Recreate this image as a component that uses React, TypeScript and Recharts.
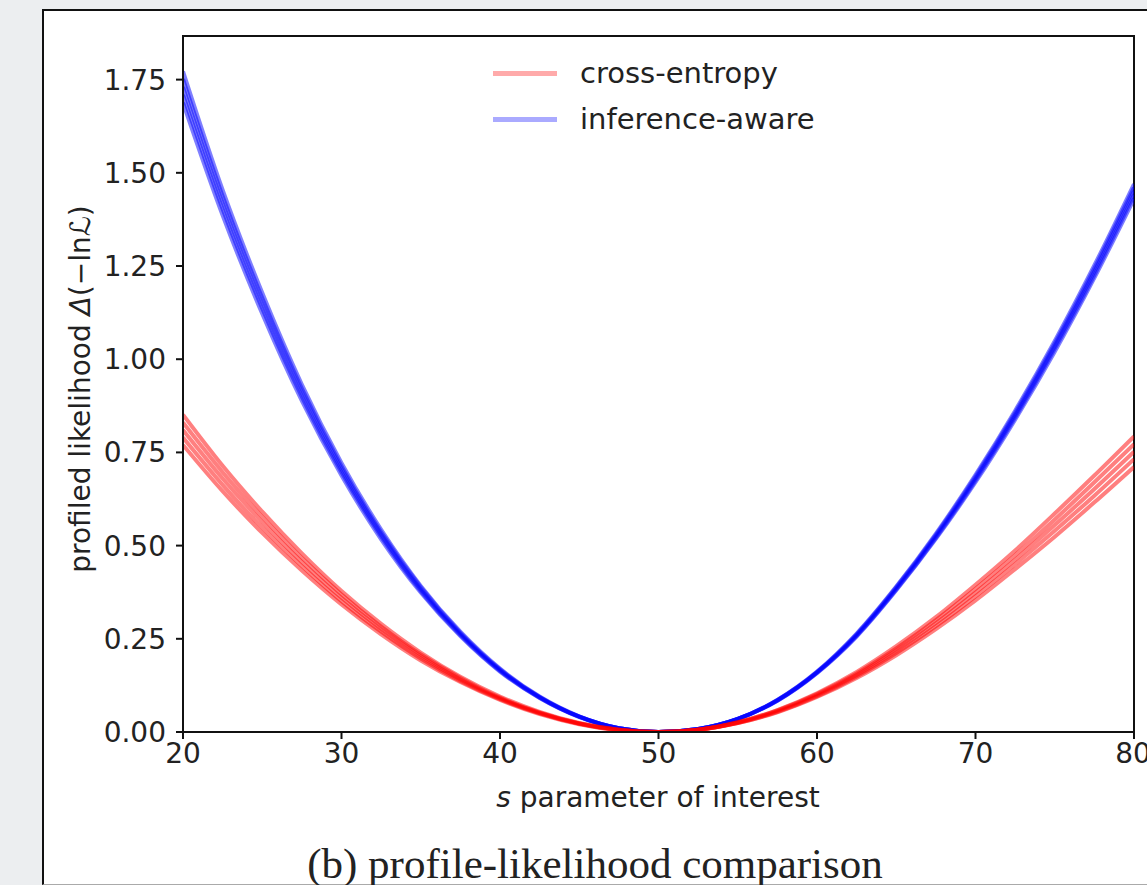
import React from "react";
import {
  LineChart,
  Line,
  XAxis,
  YAxis,
  ReferenceArea,
} from "recharts";

// signal strength s, sampled every 2.5
const sValues = [
  20, 22.5, 25, 27.5, 30, 32.5, 35, 37.5, 40, 42.5, 45, 47.5, 50,
  52.5, 55, 57.5, 60, 62.5, 65, 67.5, 70, 72.5, 75, 77.5, 80,
];

// cross-entropy trained models (5 runs)
const crossEntropy1 = [0.851, 0.714, 0.591, 0.479, 0.378, 0.29, 0.213, 0.148, 0.095, 0.054, 0.024, 0.006, 0, 0.006, 0.026, 0.059, 0.104, 0.161, 0.23, 0.308, 0.395, 0.487, 0.586, 0.688, 0.793];
const crossEntropy2 = [0.83, 0.697, 0.577, 0.467, 0.369, 0.283, 0.208, 0.145, 0.092, 0.052, 0.023, 0.006, 0, 0.006, 0.026, 0.058, 0.102, 0.157, 0.224, 0.3, 0.384, 0.474, 0.57, 0.67, 0.772];
const crossEntropy3 = [0.81, 0.68, 0.563, 0.456, 0.36, 0.276, 0.203, 0.141, 0.09, 0.051, 0.023, 0.006, 0, 0.006, 0.025, 0.056, 0.099, 0.153, 0.218, 0.292, 0.374, 0.462, 0.555, 0.652, 0.752];
const crossEntropy4 = [0.79, 0.663, 0.548, 0.445, 0.351, 0.269, 0.197, 0.137, 0.088, 0.05, 0.022, 0.005, 0, 0.006, 0.024, 0.054, 0.096, 0.149, 0.212, 0.284, 0.364, 0.45, 0.54, 0.634, 0.732];
const crossEntropy5 = [0.77, 0.646, 0.534, 0.433, 0.342, 0.262, 0.192, 0.134, 0.086, 0.048, 0.021, 0.005, 0, 0.006, 0.024, 0.053, 0.094, 0.145, 0.206, 0.276, 0.353, 0.437, 0.524, 0.616, 0.711];

// inference-aware trained models (5 runs)
const inferenceAware1 = [1.772, 1.454, 1.178, 0.932, 0.722, 0.543, 0.392, 0.269, 0.17, 0.095, 0.042, 0.01, 0, 0.008, 0.035, 0.086, 0.162, 0.264, 0.39, 0.532, 0.69, 0.862, 1.049, 1.252, 1.47];
const inferenceAware2 = [1.751, 1.437, 1.164, 0.921, 0.713, 0.536, 0.388, 0.266, 0.168, 0.094, 0.041, 0.01, 0, 0.008, 0.035, 0.086, 0.161, 0.262, 0.388, 0.529, 0.685, 0.856, 1.042, 1.244, 1.46];
const inferenceAware3 = [1.73, 1.42, 1.15, 0.91, 0.705, 0.53, 0.383, 0.263, 0.166, 0.093, 0.041, 0.01, 0, 0.008, 0.035, 0.085, 0.16, 0.26, 0.385, 0.525, 0.68, 0.85, 1.035, 1.235, 1.45];
const inferenceAware4 = [1.709, 1.403, 1.136, 0.899, 0.697, 0.524, 0.378, 0.26, 0.164, 0.092, 0.041, 0.01, 0, 0.008, 0.035, 0.084, 0.159, 0.258, 0.382, 0.521, 0.675, 0.844, 1.028, 1.226, 1.44];
const inferenceAware5 = [1.688, 1.386, 1.122, 0.888, 0.688, 0.517, 0.374, 0.257, 0.162, 0.091, 0.04, 0.01, 0, 0.008, 0.035, 0.084, 0.158, 0.256, 0.38, 0.518, 0.67, 0.838, 1.02, 1.218, 1.43];

const xTicks = [20, 30, 40, 50, 60, 70, 80];
const yTicks = [0, 0.25, 0.5, 0.75, 1.0, 1.25, 1.5, 1.75];

const ceRuns = [crossEntropy1, crossEntropy2, crossEntropy3, crossEntropy4, crossEntropy5];
const iaRuns = [inferenceAware1, inferenceAware2, inferenceAware3, inferenceAware4, inferenceAware5];

const data = sValues.map((s, i) => {
  const row: Record<string, number> = { s };
  ceRuns.forEach((run, k) => (row[`ce${k}`] = run[i]));
  iaRuns.forEach((run, k) => (row[`ia${k}`] = run[i]));
  return row;
});

const FONT = "'DejaVu Sans', sans-serif";
const RED = "#ff0000";
const BLUE = "#0000ff";

export default function App() {
  return (
    <div
      style={{
        position: "fixed",
        left: 0,
        top: 0,
        width: 1147,
        height: 885,
        overflow: "hidden",
        background: "#eceef0",
      }}
    >
      {/* white figure panel */}
      <div
        style={{
          position: "absolute",
          left: 42,
          top: 9,
          width: 1120,
          height: 873,
          background: "#fff",
          borderLeft: "2px solid #111",
          borderTop: "2px solid #111",
          borderBottom: "1px solid #aaa",
        }}
      />
      <div style={{ position: "absolute", left: 0, top: 0 }}>
        <LineChart
          width={1147}
          height={885}
          data={data}
          margin={{ top: 36, right: 13, left: 123, bottom: 123 }}
        >
          <ReferenceArea
            x1={20}
            x2={80}
            y1={0}
            y2={1.867}
            fill="none"
            stroke="#111"
            strokeWidth={2}
            ifOverflow="visible"
          />
          <XAxis
            dataKey="s"
            type="number"
            domain={[20, 80]}
            ticks={xTicks}
            height={30}
            tickSize={7}
            tickMargin={4}
            axisLine={{ stroke: "#111", strokeWidth: 2 }}
            tickLine={{ stroke: "#111", strokeWidth: 2 }}
            tick={{ fontSize: 28, fill: "#222", fontFamily: FONT }}
            allowDataOverflow
          />
          <YAxis
            type="number"
            domain={[0, 1.867]}
            ticks={yTicks}
            width={60}
            tickSize={7}
            tickMargin={10}
            tickFormatter={(v: number) => v.toFixed(2)}
            axisLine={{ stroke: "#111", strokeWidth: 2 }}
            tickLine={{ stroke: "#111", strokeWidth: 2 }}
            tick={{ fontSize: 28, fill: "#222", fontFamily: FONT }}
            allowDataOverflow
          />
          {iaRuns.map((_, k) => (
            <Line
              key={`ia${k}`}
              dataKey={`ia${k}`}
              type="monotone"
              stroke={BLUE}
              strokeOpacity={0.5}
              strokeWidth={4}
              dot={false}
              isAnimationActive={false}
            />
          ))}
          {ceRuns.map((_, k) => (
            <Line
              key={`ce${k}`}
              dataKey={`ce${k}`}
              type="monotone"
              stroke={RED}
              strokeOpacity={0.5}
              strokeWidth={4}
              dot={false}
              isAnimationActive={false}
            />
          ))}
        </LineChart>
      </div>

      {/* legend */}
      {[
        { name: "cross-entropy", color: "#ffaaaa", y: 74 },
        { name: "inference-aware", color: "#aaaaff", y: 120 },
      ].map((item) => (
        <div key={item.name}>
          <div
            style={{
              position: "absolute",
              left: 493,
              top: item.y - 3,
              width: 64,
              height: 5,
              background: item.color,
            }}
          />
          <div
            style={{
              position: "absolute",
              left: 580,
              top: item.y - 18,
              fontFamily: FONT,
              fontSize: 29,
              lineHeight: "34px",
              color: "#222",
              whiteSpace: "nowrap",
            }}
          >
            {item.name}
          </div>
        </div>
      ))}

      {/* y axis title */}
      <div
        style={{
          position: "absolute",
          left: 80,
          top: 389,
          transform: "translate(-50%, -50%) rotate(-90deg)",
          fontFamily: FONT,
          fontSize: 28,
          color: "#222",
          whiteSpace: "nowrap",
        }}
      >
        profiled likelihood <i>Δ</i>(−ln<i>ℒ</i>)
      </div>

      {/* x axis title */}
      <div
        style={{
          position: "absolute",
          left: 658,
          top: 797,
          transform: "translate(-50%, -50%)",
          fontFamily: FONT,
          fontSize: 28,
          color: "#222",
          whiteSpace: "nowrap",
        }}
      >
        <i>s</i> parameter of interest
      </div>

      {/* subfigure caption */}
      <div
        style={{
          position: "absolute",
          left: 595,
          top: 864,
          transform: "translate(-50%, -50%)",
          fontFamily: "'Liberation Serif', serif",
          fontSize: 43,
          lineHeight: "40px",
          color: "#222",
          whiteSpace: "nowrap",
        }}
      >
        (b) profile-likelihood comparison
      </div>
    </div>
  );
}
